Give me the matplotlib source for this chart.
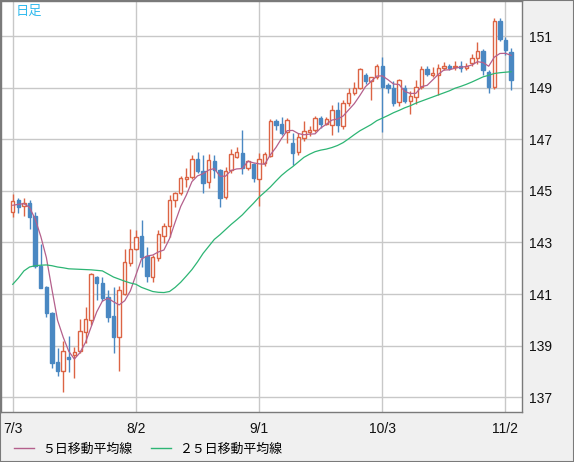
import matplotlib
matplotlib.use("Agg")
import matplotlib.pyplot as plt
import numpy as np
import pandas as pd
from matplotlib.lines import Line2D
from matplotlib.patches import Rectangle


# 日足データ (7/3 - 11/3)
opens = [144.20, 144.65, 144.42, 144.52, 144.03, 142.10, 141.27, 140.28, 138.37, 138.00,
         138.58, 138.64, 138.80, 139.55, 140.00, 141.65, 141.42, 140.90, 140.16, 139.35,
         141.00, 142.20, 142.74, 143.26, 142.48, 141.66, 142.41, 143.27, 143.62, 144.65,
         144.91, 145.46, 145.52, 146.24, 145.79, 145.33, 146.16, 145.81, 144.76, 145.81,
         146.33, 146.46, 145.88, 146.05, 145.47, 146.10, 146.36, 147.69, 147.60, 147.30,
         146.87, 146.50, 147.04, 147.30, 147.36, 147.82, 147.60, 147.55, 148.14, 147.50,
         148.40, 148.79, 149.00, 149.50, 149.27, 149.40, 149.85, 149.10, 148.98, 148.43,
         149.00, 148.49, 148.64, 149.03, 149.73, 149.50, 149.50, 149.78, 149.85, 149.80,
         149.85, 149.75, 149.94, 150.16, 150.42, 149.60, 149.04, 151.60, 150.85, 150.40]
highs = [144.87, 144.72, 144.72, 144.65, 144.20, 142.95, 141.30, 140.32, 138.90, 139.20,
         139.38, 138.96, 140.03, 140.49, 141.80, 141.70, 141.66, 141.16, 141.27, 141.30,
         142.75, 143.52, 143.50, 143.88, 142.84, 142.52, 143.50, 143.75, 144.84, 144.97,
         145.58, 145.88, 146.40, 146.52, 146.40, 146.43, 146.40, 145.85, 145.92, 146.62,
         146.69, 147.36, 146.20, 146.10, 146.46, 146.52, 147.78, 147.78, 147.88, 147.82,
         147.23, 147.24, 147.69, 147.52, 147.90, 147.90, 147.87, 148.33, 148.46, 148.53,
         148.98, 149.23, 149.75, 149.57, 149.40, 149.90, 150.20, 149.20, 149.25, 149.35,
         149.10, 148.88, 149.30, 149.83, 149.83, 149.80, 149.90, 150.00, 149.92, 150.03,
         150.03, 149.97, 150.30, 150.78, 150.50, 149.70, 151.72, 151.70, 150.95, 150.55]
lows = [143.97, 144.16, 144.04, 143.53, 142.00, 141.23, 140.13, 138.15, 137.84, 137.22,
        137.99, 137.74, 138.70, 139.10, 139.80, 140.76, 140.75, 139.93, 138.73, 138.00,
        140.95, 142.10, 142.70, 142.04, 141.48, 141.48, 142.30, 142.97, 143.23, 144.39,
        144.85, 145.17, 145.45, 145.69, 144.91, 145.10, 145.49, 144.37, 144.70, 145.70,
        146.27, 145.65, 145.80, 145.36, 144.42, 145.95, 146.30, 147.36, 147.17, 146.85,
        145.99, 146.40, 146.95, 147.13, 147.30, 147.45, 147.55, 147.17, 147.30, 147.40,
        148.30, 148.70, 148.95, 149.14, 148.53, 149.35, 147.30, 148.80, 148.30, 148.30,
        148.40, 147.97, 148.37, 148.95, 149.45, 149.40, 148.72, 149.70, 149.70, 149.70,
        149.60, 149.70, 149.85, 149.90, 149.50, 148.80, 148.95, 150.80, 150.25, 148.90]
closes = [144.61, 144.39, 144.52, 143.97, 142.07, 141.25, 140.28, 138.34, 138.00, 138.80,
          138.50, 138.77, 139.57, 140.03, 141.77, 141.42, 140.84, 140.13, 139.35, 141.16,
          142.24, 142.74, 143.23, 142.45, 141.72, 142.43, 143.33, 143.62, 144.65, 144.90,
          145.49, 145.52, 146.23, 145.77, 145.32, 146.20, 145.81, 144.74, 145.78, 146.43,
          146.50, 145.88, 146.14, 145.49, 146.23, 146.43, 147.69, 147.56, 147.24, 147.75,
          146.48, 147.08, 147.33, 147.36, 147.81, 147.61, 147.80, 148.14, 147.56, 148.40,
          148.81, 149.00, 149.73, 149.27, 149.40, 149.85, 149.04, 149.00, 148.42, 149.30,
          148.50, 148.66, 149.02, 149.73, 149.54, 149.55, 149.75, 149.85, 149.78, 149.86,
          149.75, 149.85, 150.16, 150.42, 149.69, 149.04, 151.60, 150.88, 150.45, 149.30]

# 表示期間より前の終値 (5日線の計算用)
pre_closes = [144.2, 144.4, 144.7, 144.3]

# 25日移動平均線 (チャートから読み取り)
ma25 = [141.38, 141.62, 141.90, 142.05, 142.10, 142.12, 142.13, 142.10, 142.05, 142.02,
        141.98, 141.97, 141.96, 141.95, 141.94, 141.92, 141.90, 141.78, 141.66, 141.58,
        141.50, 141.43, 141.38, 141.26, 141.18, 141.10, 141.07, 141.06, 141.10, 141.26,
        141.46, 141.70, 141.95, 142.25, 142.58, 142.85, 143.12, 143.30, 143.50, 143.70,
        143.88, 144.07, 144.30, 144.52, 144.76, 144.95, 145.15, 145.38, 145.60, 145.78,
        145.94, 146.12, 146.30, 146.42, 146.52, 146.58, 146.62, 146.68, 146.76, 146.87,
        147.02, 147.18, 147.33, 147.45, 147.57, 147.72, 147.82, 147.92, 148.03, 148.12,
        148.22, 148.30, 148.40, 148.48, 148.56, 148.64, 148.72, 148.80, 148.88, 148.98,
        149.05, 149.13, 149.22, 149.32, 149.42, 149.48, 149.55, 149.58, 149.60, 149.62]

date_ticks = [0, 22, 44, 66, 88]
date_labels = ["7/3", "8/2", "9/1", "10/3", "11/2"]
price_ticks = [137, 139, 141, 143, 145, 147, 149, 151]
legend_labels = ["５日移動平均線", "２５日移動平均線"]

RED = "#dc6444"
BLUE = "#4a88c2"
MA5_COLOR = "#b4608c"
MA25_COLOR = "#2db574"
GRID = "#c8c8c8"
BORDER = "#7a7a7a"

W, H = 574, 462
fig = plt.figure(figsize=(W / 100, H / 100), dpi=100, facecolor="#f0f0f0")
ax = fig.add_axes([1 / W, 1 - 412 / H, 521 / W, 411 / H])
ax.set_facecolor("white")

o = np.array(opens)
h = np.array(highs)
l = np.array(lows)
c = np.array(closes)
x = np.arange(len(c))
up = c >= o

# ひげ
ax.vlines(x[up], l[up], h[up], color=RED, lw=1, zorder=2)
ax.vlines(x[~up], l[~up], h[~up], color=BLUE, lw=1, zorder=2)
# 実体
body_low = np.minimum(o, c)
body_h = np.abs(c - o)
ax.bar(x[up], body_h[up], bottom=body_low[up], width=0.62,
       facecolor="white", edgecolor=RED, lw=1, zorder=3)
ax.bar(x[~up], body_h[~up], bottom=body_low[~up], width=0.62,
       facecolor=BLUE, edgecolor=BLUE, lw=1, zorder=3)

# 移動平均線
ma5 = pd.Series(pre_closes + closes).rolling(5).mean().iloc[len(pre_closes):].values
ax.plot(x, ma5, color=MA5_COLOR, lw=0.9, zorder=4)
ax.plot(x, ma25, color=MA25_COLOR, lw=0.9, zorder=4)

ax.set_xlim(-2.1, 90.95)
ax.set_ylim(136.43, 152.36)

ax.set_xticks(date_ticks)
ax.set_xticklabels(date_labels)
ax.set_yticks(price_ticks)
ax.yaxis.tick_right()
ax.tick_params(axis="both", length=0, labelsize=10, labelcolor="#111111")
ax.tick_params(axis="x", pad=7)
ax.tick_params(axis="y", pad=5)
for lab in ax.get_xticklabels() + ax.get_yticklabels():
    lab.set_fontfamily("Liberation Sans")

ax.grid(True, color=GRID, lw=1)
ax.set_axisbelow(True)
for sp in ax.spines.values():
    sp.set_color(BORDER)
    sp.set_linewidth(1)

ax.text(15 / 521, 1 - 4 / 411, "日足", transform=ax.transAxes, ha="left", va="top",
        fontsize=9.5, color="#33bbee", family=["Noto Sans CJK JP", "DejaVu Sans"])

handles = [Line2D([], [], color=MA5_COLOR, lw=1), Line2D([], [], color=MA25_COLOR, lw=1)]
fig.legend(handles, legend_labels, loc="center left", bbox_to_anchor=(14 / W, 1 - 449 / H),
           ncol=2, frameon=False, borderpad=0, borderaxespad=0, handlelength=1.55,
           handletextpad=0.6, columnspacing=1.5,
           prop={"family": ["Noto Sans CJK JP", "DejaVu Sans"], "size": 9.3})

fig.add_artist(Rectangle((0, 0), 1, 1, transform=fig.transFigure, fill=False,
                         edgecolor=BORDER, lw=1.5))

fig.savefig("out.png", dpi=100, facecolor=fig.get_facecolor())
